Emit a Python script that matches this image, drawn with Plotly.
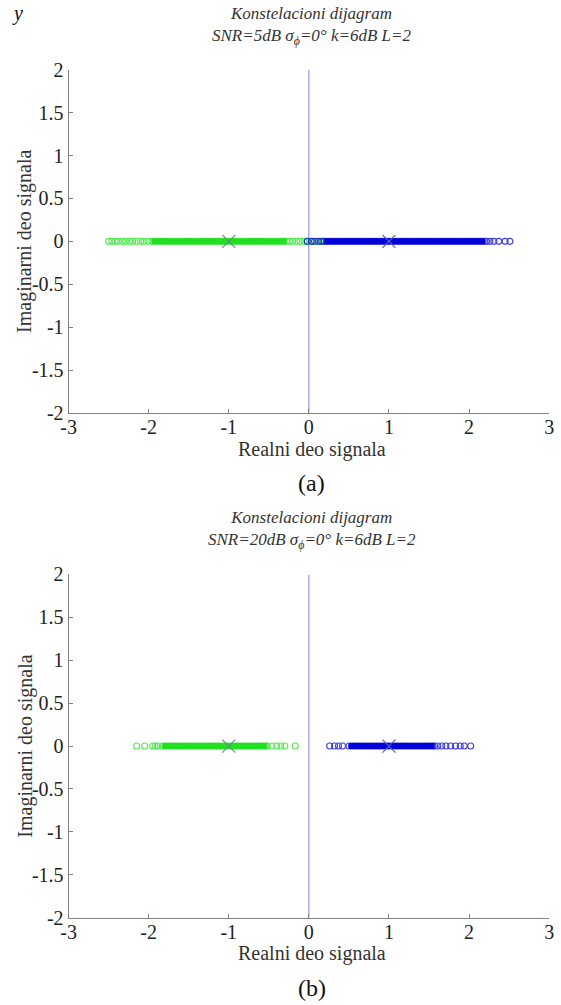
import plotly.graph_objects as go

# ---------------- data ----------------
# (a) SNR = 5 dB : real parts of received symbols (imag part = 0)
a_green_re = [-2.50, -2.46, -2.42, -2.38, -2.33, -2.29, -2.24, -2.20, -2.15, -2.10, -2.06, -2.01,
              -1.96, -1.93, -1.90, -1.87, -1.84, -1.81, -1.78, -1.75, -1.72, -1.69, -1.66, -1.63,
              -1.60, -1.57, -1.54, -1.51, -1.48, -1.45, -1.42, -1.39, -1.36, -1.33, -1.30, -1.27,
              -1.24, -1.21, -1.18, -1.15, -1.12, -1.09, -1.06, -1.03, -1.00, -0.97, -0.94, -0.91,
              -0.88, -0.85, -0.82, -0.79, -0.76, -0.73, -0.70, -0.67, -0.64, -0.61, -0.58, -0.55,
              -0.52, -0.49, -0.46, -0.43, -0.40, -0.37, -0.34, -0.31, -0.28,
              -0.24, -0.20, -0.15, -0.11, -0.06, -0.02, 0.04, 0.09, 0.14, 0.18]
a_blue_re = [-0.02, 0.03, 0.07, 0.12, 0.16,
             0.19, 0.22, 0.25, 0.28, 0.31, 0.34, 0.37, 0.40, 0.43, 0.46, 0.49, 0.52, 0.55, 0.58,
             0.61, 0.64, 0.67, 0.70, 0.73, 0.76, 0.79, 0.82, 0.85, 0.88, 0.91, 0.94, 0.97, 1.00,
             1.03, 1.06, 1.09, 1.12, 1.15, 1.18, 1.21, 1.24, 1.27, 1.30, 1.33, 1.36, 1.39, 1.42,
             1.45, 1.48, 1.51, 1.54, 1.57, 1.60, 1.63, 1.66, 1.69, 1.72, 1.75, 1.78, 1.81, 1.84,
             1.87, 1.90, 1.93, 1.96, 1.99, 2.02, 2.05, 2.08, 2.11, 2.14, 2.17, 2.20,
             2.22, 2.26, 2.31, 2.37, 2.45, 2.51]

# (b) SNR = 20 dB
b_green_re = [-2.15, -2.05, -1.95, -1.92, -1.89,
              -1.83, -1.80, -1.77, -1.74, -1.71, -1.68, -1.65, -1.62, -1.59, -1.56, -1.53, -1.50,
              -1.47, -1.44, -1.41, -1.38, -1.35, -1.32, -1.29, -1.26, -1.23, -1.20, -1.17, -1.14,
              -1.11, -1.08, -1.05, -1.02, -0.99, -0.96, -0.93, -0.90, -0.87, -0.84, -0.81, -0.78,
              -0.75, -0.72, -0.69, -0.66, -0.63, -0.60, -0.57, -0.54, -0.52,
              -0.46, -0.40, -0.35, -0.30, -0.17]
b_blue_re = [0.26, 0.32, 0.37, 0.42,
             0.50, 0.53, 0.56, 0.59, 0.62, 0.65, 0.68, 0.71, 0.74, 0.77, 0.80, 0.83, 0.86, 0.89,
             0.92, 0.95, 0.98, 1.01, 1.04, 1.07, 1.10, 1.13, 1.16, 1.19, 1.22, 1.25, 1.28, 1.31,
             1.34, 1.37, 1.40, 1.43, 1.46, 1.49, 1.52, 1.55, 1.57,
             1.61, 1.66, 1.71, 1.77, 1.83, 1.89, 1.94, 2.02]

# dense-cluster ranges (drawn as a solid band of overlapping markers)
a_green_dense = [-1.96, -0.28]
a_blue_dense = [0.19, 2.20]
b_green_dense = [-1.83, -0.52]
b_blue_dense = [0.50, 1.57]

ideal_re = [-1, 1]
ideal_im = [0, 0]

titles = ["<i>Konstelacioni dijagram</i><br><i>SNR=5dB σ<sub>ϕ</sub>=0° k=6dB L=2</i>",
          "<i>Konstelacioni dijagram</i><br><i>SNR=20dB σ<sub>ϕ</sub>=0° k=6dB L=2</i>"]
panel_labels = ["(a)", "(b)"]
x_ticks = [-3, -2, -1, 0, 1, 2, 3]
x_tick_text = ["-3", "-2", "-1", "0", "1", "2", "3"]
y_ticks = [-2, -1.5, -1, -0.5, 0, 0.5, 1, 1.5, 2]
y_tick_text = ["-2", "-1.5", "-1", "-0.5", "0", "0.5", "1", "1.5", "2"]

GREEN = "#22e022"
BLUE = "#0000d8"
FONT = "Liberation Serif"
W, H = 561, 1005

fig = go.Figure()

panels = [
    dict(g=a_green_re, b=a_blue_re, gd=a_green_dense, bd=a_blue_dense,
         xa="x", ya="y", top=60, bot=411),
    dict(g=b_green_re, b=b_blue_re, gd=b_green_dense, bd=b_blue_dense,
         xa="x2", ya="y2", top=576, bot=927),
]

for p in panels:
    fig.add_trace(go.Scatter(x=[0, 0], y=[-2, 2], mode="lines",
                             line=dict(color="#8080e0", width=1),
                             xaxis=p["xa"], yaxis=p["ya"], hoverinfo="skip"))
    for pts, dense, col in ((p["g"], p["gd"], GREEN), (p["b"], p["bd"], BLUE)):
        fig.add_trace(go.Scatter(x=dense, y=[0, 0], mode="lines",
                                 line=dict(color=col, width=6),
                                 xaxis=p["xa"], yaxis=p["ya"], hoverinfo="skip"))
        fig.add_trace(go.Scatter(x=pts, y=[0] * len(pts), mode="markers",
                                 marker=dict(symbol="circle-open", size=6, color=col,
                                             line=dict(width=1.1)),
                                 opacity=0.75,
                                 xaxis=p["xa"], yaxis=p["ya"]))
    fig.add_trace(go.Scatter(x=ideal_re[:1], y=ideal_im[:1], mode="markers",
                             marker=dict(symbol="x-thin-open", size=13, color="#5f9080",
                                         line=dict(width=1.2, color="#5f9080")),
                             xaxis=p["xa"], yaxis=p["ya"]))
    fig.add_trace(go.Scatter(x=ideal_re[1:], y=ideal_im[1:], mode="markers",
                             marker=dict(symbol="x-thin-open", size=13, color="#5060c8",
                                         line=dict(width=1.2, color="#5060c8")),
                             xaxis=p["xa"], yaxis=p["ya"]))

x0, x1 = 62, 554
axis_common = dict(showgrid=False, zeroline=False, showline=True, linecolor="#808080",
                   linewidth=1, ticks="inside", ticklen=4, tickcolor="#808080",
                   tickfont=dict(family=FONT, size=20, color="#222"),
                   ticklabeloverflow="allow")

layout = dict(
    width=W, height=H, margin=dict(l=0, r=0, t=0, b=0),
    paper_bgcolor="white", plot_bgcolor="white", showlegend=False,
    font=dict(family=FONT, color="#222"),
)
annotations = []
for i, p in enumerate(panels):
    sfx = "" if i == 0 else "2"
    layout["xaxis" + sfx] = dict(axis_common, domain=[x0 / W, x1 / W], range=[-3, 3],
                                 tickvals=x_ticks, ticktext=x_tick_text,
                                 anchor="y" + sfx, fixedrange=True, ticklabelstandoff=-4)
    layout["yaxis" + sfx] = dict(axis_common, domain=[1 - p["bot"] / H, 1 - p["top"] / H],
                                 range=[-2, 2], tickvals=y_ticks, ticktext=y_tick_text,
                                 anchor="x" + sfx, fixedrange=True, ticklabelstandoff=0)
    ymid = (p["top"] + p["bot"]) / 2
    annotations += [
        dict(text=titles[i], x=311 / W, y=1 - (p["top"] - 45) / H, xref="paper", yref="paper",
             showarrow=False, font=dict(family=FONT, size=17, color="#333"), yanchor="middle"),
        dict(text="Realni deo signala", x=311 / W, y=1 - (p["bot"] + 37) / H, xref="paper",
             yref="paper", showarrow=False, font=dict(family=FONT, size=20, color="#333"),
             yanchor="middle"),
        dict(text=panel_labels[i], x=311 / W, y=1 - (p["bot"] + 72) / H, xref="paper",
             yref="paper", showarrow=False, font=dict(family=FONT, size=24, color="#111"),
             yanchor="middle"),
        dict(text="Imaginarni deo signala", x=17 / W, y=1 - ymid / H, xref="paper",
             yref="paper", showarrow=False, textangle=-90,
             font=dict(family=FONT, size=20, color="#333"), xanchor="center", yanchor="middle"),
    ]
annotations.append(dict(text="<i>y</i>", x=2 / W, y=1 - 3 / H, xref="paper", yref="paper",
                        showarrow=False, xanchor="left", yanchor="middle",
                        font=dict(family=FONT, size=20, color="#111")))
layout["annotations"] = annotations
fig.update_layout(**layout)

fig.write_html("out.html")
